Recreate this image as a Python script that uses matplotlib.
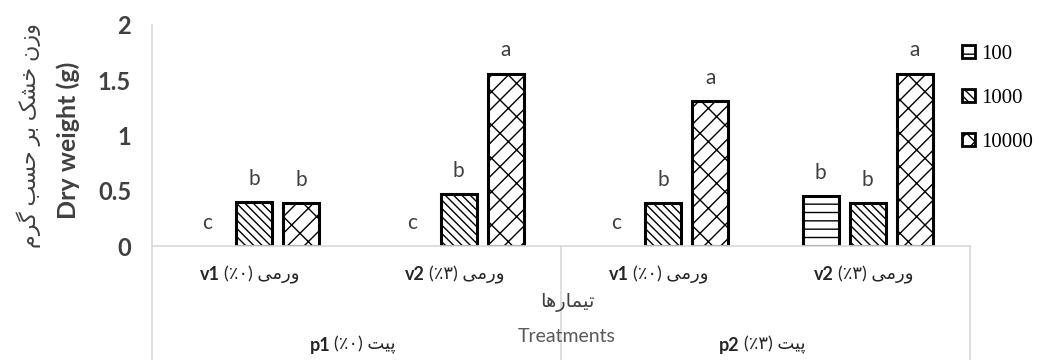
import matplotlib
matplotlib.use("Agg")
import matplotlib.pyplot as plt
from matplotlib.patches import Patch
import numpy as np

# doses (legend) and treatment groups
doses = ["100", "1000", "10000"]
vermi_labels = ["v1", "v2", "v1", "v2"]
vermi_pct = ["\u066a\u06f0", "\u066a\u06f3", "\u066a\u06f0", "\u066a\u06f3"]
peat_labels = ["p1", "p2"]
peat_pct = ["\u066a\u06f0", "\u066a\u06f3"]

dry_100 = [0.0, 0.0, 0.0, 0.45]
dry_1000 = [0.40, 0.47, 0.39, 0.39]
dry_10000 = [0.39, 1.56, 1.31, 1.56]
letters_100 = ["c", "c", "c", "b"]
letters_1000 = ["b", "b", "b", "b"]
letters_10000 = ["b", "a", "a", "a"]

# Persian words, pre-shaped into presentation forms in visual order
VERMI = "\uFBFD\uFEE3\uFEAD\uFEED"          # ورمی
PEAT = "\uFE96\uFBFF\uFB58"                  # پیت
TIMARHA = "\uFE8E\uFEEB\uFEAD\uFE8E\uFEE4\uFBFF\uFE97"   # تیمارها
YLAB_FA = ("\uFEE1\uFEAE\uFB94 \uFE90\uFEB4\uFEA3 \uFEAE\uFE91 "
           "\uFB8F\uFEB8\uFEA7 \uFEE5\uFEAF\uFEED")      # وزن خشک بر حسب گرم

SANS = ["Lato", "DejaVu Sans"]
plt.rcParams["font.family"] = SANS
plt.rcParams["hatch.linewidth"] = 1.0

fig = plt.figure(figsize=(10.42, 3.6), dpi=100)
ax = fig.add_axes([152 / 1042, 1 - 246 / 360, 818 / 1042, 221 / 360])

x = np.arange(len(vermi_labels))
w = 0.176
gap = 0.23
series = [(dry_100, letters_100, "--"), (dry_1000, letters_1000, "\\\\\\\\"),
          (dry_10000, letters_10000, "//\\")]
handles = []
for k, (vals, lets, hatch) in enumerate(series):
    pos = x + (k - 1) * gap
    lws = [2.2 if v > 0 else 0 for v in vals]
    ax.bar(pos, vals, w, color="white", edgecolor="black", linewidth=lws,
           hatch=hatch)
    handles.append(Patch(facecolor="white", edgecolor="black", linewidth=2,
                         hatch=hatch, label=doses[k]))
    for px, v, t in zip(pos, vals, lets):
        ax.text(px, v + 0.21, t, ha="center", va="center", fontsize=15,
                color="#404040")

ax.set_xlim(-0.5, 3.5)
ax.set_ylim(0, 2)
ax.set_yticks([0, 0.5, 1, 1.5, 2])
ax.set_yticklabels(["0", "0.5", "1", "1.5", "2"], fontsize=17,
                   fontweight="bold", color="#404040")
ax.set_xticks([])
ax.tick_params(axis="y", length=0, pad=15)
for s in ["top", "right"]:
    ax.spines[s].set_visible(False)
for s in ["left", "bottom"]:
    ax.spines[s].set_color("#d9d9d9")
    ax.spines[s].set_linewidth(1.2)

trans = ax.get_xaxis_transform()
bottom_y = -114 / 221
for xv in [-0.5, 1.5, 3.5]:
    ax.plot([xv, xv], [0, bottom_y], transform=trans, color="#d9d9d9",
            lw=1.2, clip_on=False)

# inner category labels
for i in range(len(vermi_labels)):
    ax.annotate(vermi_labels[i], xy=(x[i], 0), xycoords=trans,
                xytext=(-34, -29), textcoords="offset pixels", ha="right",
                va="center", fontsize=13, fontweight="bold", color="#262626")
    ax.annotate("(" + vermi_pct[i] + ") " + VERMI, xy=(x[i], 0), xycoords=trans,
                xytext=(-30, -29), textcoords="offset pixels", ha="left",
                va="center", fontsize=13, color="#262626")

# outer category labels
for j in range(len(peat_labels)):
    xc = 2 * j + 0.5
    ax.annotate(peat_labels[j], xy=(xc, 0), xycoords=trans,
                xytext=(-26, -99), textcoords="offset pixels", ha="right",
                va="center", fontsize=13, fontweight="bold", color="#262626")
    ax.annotate("(" + peat_pct[j] + ") " + PEAT, xy=(xc, 0), xycoords=trans,
                xytext=(-22, -99), textcoords="offset pixels", ha="left",
                va="center", fontsize=13, color="#262626")

ax.annotate(TIMARHA, xy=(1.5, 0), xycoords=trans, xytext=(6, -57),
            textcoords="offset pixels", ha="center", va="center", fontsize=14,
            color="#404040")
ax.annotate("Treatments", xy=(1.5, 0), xycoords=trans, xytext=(6, -91),
            textcoords="offset pixels", ha="center", va="center", fontsize=14,
            color="#595959")

fig.text(68 / 1042, 1 - 140 / 360, "Dry weight (g)", rotation=90, ha="center",
         va="center", fontsize=18, fontweight="bold", color="#404040")
fig.text(29 / 1042, 1 - 135 / 360, YLAB_FA, rotation=90, ha="center",
         va="center", fontsize=16, color="#404040")

fig.legend(handles=handles, labels=doses, loc="upper left",
           bbox_to_anchor=(962 / 1042, 1 - 45 / 360), frameon=False,
           prop={"family": "Liberation Serif", "size": 15},
           handlelength=0.6, handleheight=0.6, handletextpad=0.3,
           labelspacing=1.2, borderaxespad=0, borderpad=0)

fig.savefig("out.png", dpi=100)
